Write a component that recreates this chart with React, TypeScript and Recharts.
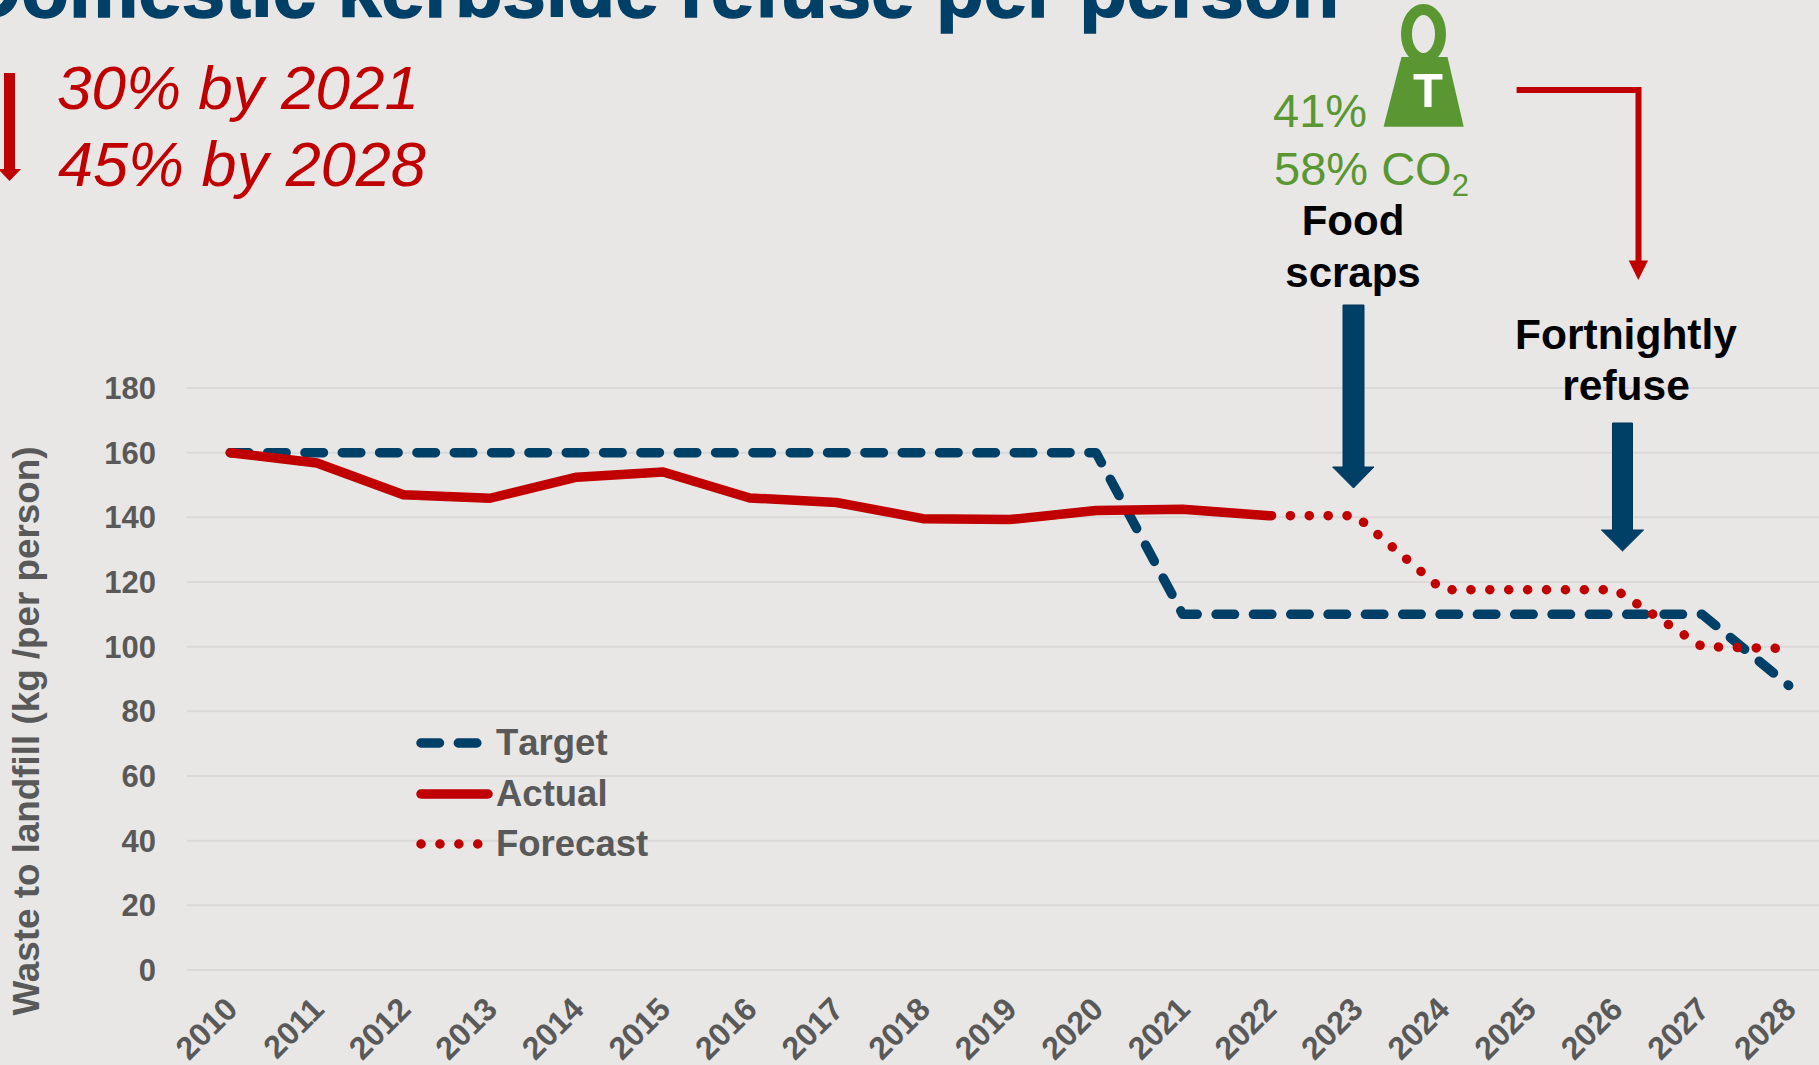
import { CartesianGrid, Legend, Line, LineChart, XAxis, YAxis } from "recharts";

const years = [
  "2010", "2011", "2012", "2013", "2014", "2015", "2016", "2017", "2018", "2019",
  "2020", "2021", "2022", "2023", "2024", "2025", "2026", "2027", "2028"
];
const targetValues = [160, 160, 160, 160, 160, 160, 160, 160, 160, 160, 160, 110, 110, 110, 110, 110, 110, 110, 88];
const actualValues = [160, 156.8, 147, 145.9, 152.4, 154, 146, 144.6, 139.6, 139.3, 142.1, 142.5, 140.5, null, null, null, null, null, null];
const forecastValues = [null, null, null, null, null, null, null, null, null, null, null, null, 140.5, 140.5, 117.6, 117.6, 117.6, 100, 99.4];
const yTicks = [0, 20, 40, 60, 80, 100, 120, 140, 160, 180];

const FONT = "'Liberation Sans', Arial, sans-serif";
const BG = "#e8e7e6";
const NAVY = "#003f66";
const RED = "#c00000";
const GREEN = "#5a9732";
const GREY = "#595959";
const TARGET_DASH = "18.5 18.83";
const FORECAST_DASH = "0.1 18.8";

const data = years.map((year, i) => ({
  year,
  Target: targetValues[i],
  Actual: actualValues[i],
  Forecast: forecastValues[i]
}));

const legendDash: Record<string, string | undefined> = {
  Target: TARGET_DASH,
  Actual: undefined,
  Forecast: FORECAST_DASH
};

const ChartLegend = ({ payload }: any) => (
  <div style={{ fontFamily: FONT }}>
    {(payload || []).map((entry: any) => (
      <div key={entry.value} style={{ display: "flex", alignItems: "center", height: 50.5 }}>
        <svg width={85} height={14} style={{ display: "block" }}>
          <line
            x1={10}
            y1={7}
            x2={entry.value === "Actual" ? 77 : 69}
            y2={7}
            stroke={entry.color}
            strokeWidth={9.5}
            strokeLinecap="round"
            strokeDasharray={legendDash[entry.value]}
          />
        </svg>
        <span style={{ color: GREY, fontSize: 36.5, fontWeight: 700, lineHeight: "50px", fontKerning: "none" }}>
          {entry.value}
        </span>
      </div>
    ))}
  </div>
);

const Annotations = () => (
  <svg
    width={1819}
    height={1065}
    style={{ position: "absolute", left: 0, top: 0, fontFamily: FONT }}
  >
    <text x={-35} y={17} fontSize={78} fontWeight={700} fill={NAVY} stroke={NAVY} strokeWidth={1.5}>
      Domestic kerbside refuse per person
    </text>

    <path d="M4 73H15V169H21L9.5 181L-2 169H4Z" fill={RED} />
    <text x={57} y={109} fontSize={62} fontStyle="italic" fill={RED}>30% by 2021</text>
    <text x={58} y={186} fontSize={63} fontStyle="italic" fill={RED}>45% by 2028</text>

    <ellipse cx={1423.5} cy={34} rx={17} ry={24.5} fill="none" stroke={GREEN} strokeWidth={11} />
    <path d="M1401.5 57H1447.5L1463.7 126.7H1383.6Z" fill={GREEN} />
    <text x={1428} y={107} fontSize={49} fontWeight={700} fill="#ffffff" textAnchor="middle">T</text>
    <text x={1273} y={127} fontSize={47} fill={GREEN}>41%</text>
    <text x={1274} y={185} fontSize={47} fill={GREEN}>
      58% CO<tspan fontSize={31} dy={10.5}>2</tspan>
    </text>

    <text x={1353} y={235} fontSize={42} fontWeight={700} fill="#000000" textAnchor="middle">Food</text>
    <text x={1353} y={287} fontSize={42} fontWeight={700} fill="#000000" textAnchor="middle">scraps</text>
    <text x={1626} y={349} fontSize={42.5} fontWeight={700} fill="#000000" textAnchor="middle">Fortnightly</text>
    <text x={1626} y={400} fontSize={42.5} fontWeight={700} fill="#000000" textAnchor="middle">refuse</text>

    <path d="M1343 305H1364V467H1374L1353.5 488L1332.6 467H1343Z" fill={NAVY} stroke="#02375a" strokeWidth={1} />
    <path d="M1612.5 423H1632.5V530H1643.6L1622.5 551L1601.4 530H1612.5Z" fill={NAVY} stroke="#02375a" strokeWidth={1} />

    <path d="M1516.6 90H1638.5V262" fill="none" stroke={RED} strokeWidth={6} />
    <path d="M1628.7 260.5H1648L1638.3 280Z" fill={RED} />
  </svg>
);

export default function App() {
  return (
    <div
      style={{
        position: "absolute",
        left: 0,
        top: 0,
        width: 1819,
        height: 1065,
        overflow: "hidden",
        background: BG
      }}
    >
      <LineChart
        width={1840}
        height={1065}
        data={data}
        margin={{ top: 388, right: 8, bottom: 0, left: 0 }}
      >
        <CartesianGrid horizontal vertical={false} stroke="#dad9d8" strokeWidth={2} />
        <XAxis
          dataKey="year"
          height={95}
          interval={0}
          padding={{ left: 43.3, right: 43.3 }}
          axisLine={false}
          tickLine={false}
          tickSize={0}
          tickMargin={25}
          angle={-45}
          textAnchor="end"
          tick={{ fontSize: 32, fontWeight: 700, fill: GREY, fontFamily: FONT, dx: -7 }}
        />
        <YAxis
          width={187}
          domain={[0, 180]}
          ticks={yTicks}
          axisLine={false}
          tickLine={false}
          tickSize={0}
          tickMargin={31}
          tick={{ fontSize: 31, fontWeight: 700, fill: GREY, fontFamily: FONT }}
          label={{
            value: "Waste to landfill (kg /per person)",
            angle: -90,
            position: "insideLeft",
            offset: 0,
            dx: 26,
            dy: 52,
            style: { fontSize: 36.8, fontWeight: 700, fill: GREY, fontFamily: FONT, textAnchor: "middle" }
          }}
        />
        <Legend
          content={<ChartLegend />}
          layout="horizontal"
          verticalAlign="middle"
          itemSorter={null}
          wrapperStyle={{ left: 411, top: 718, width: 400, bottom: "auto" }}
        />
        <Line
          dataKey="Target"
          stroke={NAVY}
          strokeWidth={9.5}
          strokeDasharray={TARGET_DASH}
          strokeLinecap="round"
          strokeLinejoin="round"
          dot={false}
          activeDot={false}
          isAnimationActive={false}
        />
        <Line
          dataKey="Actual"
          stroke={RED}
          strokeWidth={9.5}
          strokeLinecap="round"
          strokeLinejoin="round"
          dot={false}
          activeDot={false}
          isAnimationActive={false}
        />
        <Line
          dataKey="Forecast"
          stroke={RED}
          strokeWidth={9.5}
          strokeDasharray={FORECAST_DASH}
          strokeDashoffset={-2.2}
          strokeLinecap="round"
          strokeLinejoin="round"
          dot={false}
          activeDot={false}
          isAnimationActive={false}
        />
      </LineChart>
      <Annotations />
    </div>
  );
}
